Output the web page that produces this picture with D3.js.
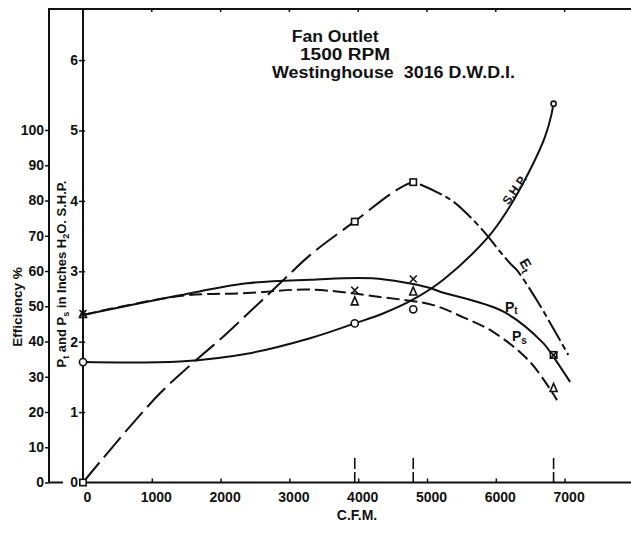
<!DOCTYPE html>
<html><head><meta charset="utf-8">
<script src="https://cdn.jsdelivr.net/npm/d3@7"></script>
<style>
body{margin:0;background:#fff}
svg{display:block;background:#fff}
text{font-family:"Liberation Sans",Arial,sans-serif;font-weight:bold;fill:#111}
</style>
</head><body>
<svg id="c" width="631" height="535"></svg>
<script>
// ---- data ----
const titleLines = ["Fan Outlet", "1500 RPM", "Westinghouse  3016 D.W.D.I."];
const cfmTicks = [0, 1000, 2000, 3000, 4000, 5000, 6000, 7000];
const effTicks = [0, 10, 20, 30, 40, 50, 60, 70, 80, 90, 100];
const presTicks = [0, 1, 2, 3, 4, 5, 6];
const xTitle = "C.F.M.";
const effTitle = "Efficiency %";

// test points (C.F.M.)
const testCfm = [0, 3950, 4800, 6840];
const ptTest  = [2.40, 2.73, 2.89, 1.81];   // X  (inches H2O)
const psTest  = [2.40, 2.58, 2.72, 1.35];   // triangle (inches H2O)
const shpTest = [1.71, 2.26, 2.46, 5.38];   // circle (S.H.P.)
const etTest  = [0, 74.0, 85.2, 36.2];      // square (efficiency %)

// faired curves [cfm, value]
const ptCurve = [[0,2.38],[1410,2.66],[2384,2.83],[3300,2.88],[4200,2.90],[5020,2.77],[5190,2.71],[6105,2.43],[6690,1.98],[6820,1.81],[7080,1.43]];
const psCurve = [[0,2.38],[1410,2.65],[2384,2.69],[3300,2.74],[4360,2.63],[5090,2.52],[5520,2.35],[5960,2.14],[6500,1.71],[6890,1.17]];
const shpCurve = [[0,1.71],[1410,1.72],[2384,1.83],[3300,2.05],[3950,2.26],[4360,2.40],[4800,2.60],[5237,2.88],[5891,3.49],[6158,3.85],[6497,4.44],[6715,4.91],[6812,5.24],[6836,5.38]];
const etCurve = [[0,0],[1119,25.3],[2089,42.3],[2863,56.5],[3300,64.5],[3943,74.0],[4560,83.0],[4800,85.2],[4920,84.4],[5220,81.6],[5382,79.7],[5625,75.4],[5891,69.7],[6061,65.5],[6206,62.2],[6304,60.3],[6594,51.8],[6836,43.7],[7054,36.2]];
const etPeakCfm = 4850;

// ---- drawing ----
const svg = d3.select("#c");
const ink = "#111";
const x = d3.scaleLinear([0, 7000], [83, 564.6]);
const yE = d3.scaleLinear([0, 100], [482.5, 130]);
const yP = d3.scaleLinear([0, 6], [482.5, 60.1]);
const W = 631;

// frame lines
const frame = svg.append("g").attr("stroke", ink).attr("stroke-width", 2).attr("fill", "none");
frame.append("line").attr("x1", 48).attr("x2", W).attr("y1", 9).attr("y2", 9);
frame.append("line").attr("x1", 49).attr("x2", 49).attr("y1", 9).attr("y2", yE(0));
frame.append("line").attr("x1", x(0)).attr("x2", x(0)).attr("y1", 9).attr("y2", yE(0) + 1);
frame.append("line").attr("x1", x(0)).attr("x2", W).attr("y1", yE(0)).attr("y2", yE(0));
frame.append("line").attr("x1", 49).attr("x2", 63).attr("y1", yE(0)).attr("y2", yE(0));

// top ticks
svg.append("g").selectAll("line").data(cfmTicks.slice(1)).join("line")
  .attr("x1", d => x(d)).attr("x2", d => x(d)).attr("y1", 9).attr("y2", 12)
  .attr("stroke", ink).attr("stroke-width", 1.5);

// bottom axis
const xAxis = d3.axisBottom(x).tickValues(cfmTicks).tickSize(-4).tickPadding(10).tickFormat(d3.format("d"));
const gx = svg.append("g").attr("transform", `translate(0,${yE(0)})`).call(xAxis);
gx.select(".domain").remove();
gx.selectAll(".tick line").attr("stroke", ink).attr("stroke-width", 1.5).filter(d => d === 0).remove();
gx.selectAll(".tick text").attr("font-size", 14).attr("font-family", null).attr("dx", 4).attr("fill", ink);

// tall marks at test points
svg.append("g").selectAll("line").data(testCfm.slice(1)).join("line")
  .attr("x1", d => x(d)).attr("x2", d => x(d)).attr("y1", 458).attr("y2", yE(0))
  .attr("stroke", ink).attr("stroke-width", 1.6).attr("stroke-dasharray", "11,3");

// outer efficiency axis
const eAxis = d3.axisLeft(yE).tickValues(effTicks).tickSize(4).tickPadding(1).tickFormat(d3.format("d"));
const ge = svg.append("g").attr("transform", "translate(49,0)").call(eAxis);
ge.select(".domain").remove();
ge.selectAll(".tick line").attr("stroke", ink).attr("stroke-width", 1.5);
ge.selectAll(".tick text").attr("font-size", 14).attr("font-family", null).attr("fill", ink);

// inner pressure / SHP axis
const pAxis = d3.axisLeft(yP).tickValues(presTicks).tickSize(4).tickPadding(1).tickFormat(d3.format("d"));
const gp = svg.append("g").attr("transform", `translate(${x(0)},0)`).call(pAxis);
gp.select(".domain").remove();
gp.selectAll(".tick line").attr("stroke", ink).attr("stroke-width", 1.5).attr("x1", 2);
gp.selectAll(".tick text").attr("font-size", 14).attr("font-family", null).attr("fill", ink);

// axis titles
svg.append("text").attr("x", 357).attr("y", 520).attr("text-anchor", "middle")
  .attr("font-size", 14).text(xTitle);
svg.append("text").attr("transform", "translate(22,307) rotate(-90)").attr("text-anchor", "middle")
  .attr("font-size", 13.5).text(effTitle);
const t2 = svg.append("text").attr("transform", "translate(66,274) rotate(-90)").attr("text-anchor", "middle")
  .attr("font-size", 13);
t2.append("tspan").text("P");
t2.append("tspan").attr("font-size", 9).attr("dy", 3).text("t");
t2.append("tspan").attr("dy", -3).text(" and P");
t2.append("tspan").attr("font-size", 9).attr("dy", 3).text("s");
t2.append("tspan").attr("dy", -3).text(" in Inches H");
t2.append("tspan").attr("font-size", 9).attr("dy", 3).text("2");
t2.append("tspan").attr("dy", -3).text("O. S.H.P.");

// title
const titlePos = [[291.7, 41.5, 87], [300, 60, 90], [272, 78, 243]];
svg.append("g").selectAll("text").data(titleLines).join("text")
  .attr("x", (d, i) => titlePos[i][0]).attr("y", (d, i) => titlePos[i][1])
  .attr("textLength", (d, i) => titlePos[i][2]).attr("lengthAdjust", "spacingAndGlyphs")
  .attr("font-size", 16).style("white-space", "pre").text(d => d);

// curves
const lineP = d3.line().x(d => x(d[0])).y(d => yP(d[1])).curve(d3.curveCatmullRom.alpha(0.5));
const lineE = d3.line().x(d => x(d[0])).y(d => yE(d[1])).curve(d3.curveCatmullRom.alpha(0.5));
const curves = svg.append("g").attr("fill", "none").attr("stroke", ink).attr("stroke-width", 2);

curves.append("path").attr("d", lineP(ptCurve));
curves.append("path").attr("d", lineP(psCurve)).attr("stroke-dasharray", "13,5");
curves.append("path").attr("d", lineP(shpCurve));

const defs = svg.append("defs");
defs.append("clipPath").attr("id", "rise").append("rect")
  .attr("x", 0).attr("y", 0).attr("width", x(etPeakCfm)).attr("height", 535);
defs.append("clipPath").attr("id", "fall").append("rect")
  .attr("x", x(etPeakCfm)).attr("y", 0).attr("width", W).attr("height", 535);
curves.append("path").attr("d", lineE(etCurve)).attr("clip-path", "url(#rise)").attr("stroke-dasharray", "26,7");
curves.append("path").attr("d", lineE(etCurve)).attr("clip-path", "url(#fall)").attr("stroke-dasharray", "24,4,6,4");

// markers
const mk = svg.append("g").attr("fill", "none").attr("stroke", ink).attr("stroke-width", 1.6);
testCfm.forEach((c, i) => {
  const cx = x(c);
  const sy = yE(etTest[i]);
  mk.append("rect").attr("x", cx - 3.2).attr("y", sy - 3.2).attr("width", 6.4).attr("height", 6.4).attr("fill", "#fff");
  mk.append("circle").attr("cx", cx).attr("cy", yP(shpTest[i])).attr("r", i === 3 ? 2.6 : 3.6).attr("fill", "#fff");
  const ty = yP(psTest[i]);
  mk.append("path").attr("d", `M${cx - 3.5},${ty + 4}L${cx + 3.5},${ty + 4}L${cx},${ty - 4}Z`);
  const xy = yP(ptTest[i]);
  mk.append("path").attr("d", `M${cx - 3.5},${xy - 3.5}L${cx + 3.5},${xy + 3.5}M${cx + 3.5},${xy - 3.5}L${cx - 3.5},${xy + 3.5}`);
});

// curve labels
const lab = svg.append("g");
const pt = lab.append("text").attr("x", 505).attr("y", 311.5).attr("font-size", 14);
pt.append("tspan").text("P"); pt.append("tspan").attr("font-size", 10).attr("dy", 2).text("t");
const ps = lab.append("text").attr("x", 512).attr("y", 341).attr("font-size", 14);
ps.append("tspan").text("P"); ps.append("tspan").attr("font-size", 10).attr("dy", 3).text("s");
lab.append("text").attr("transform", "translate(518,192) rotate(-55)").attr("text-anchor", "middle")
  .attr("font-size", 12).text("S.H.P.");
const et = lab.append("text").attr("transform", "translate(519,262) rotate(60)").attr("font-size", 14);
et.append("tspan").text("E"); et.append("tspan").attr("font-size", 10).attr("dy", 3).text("t");
</script>
</body></html>
